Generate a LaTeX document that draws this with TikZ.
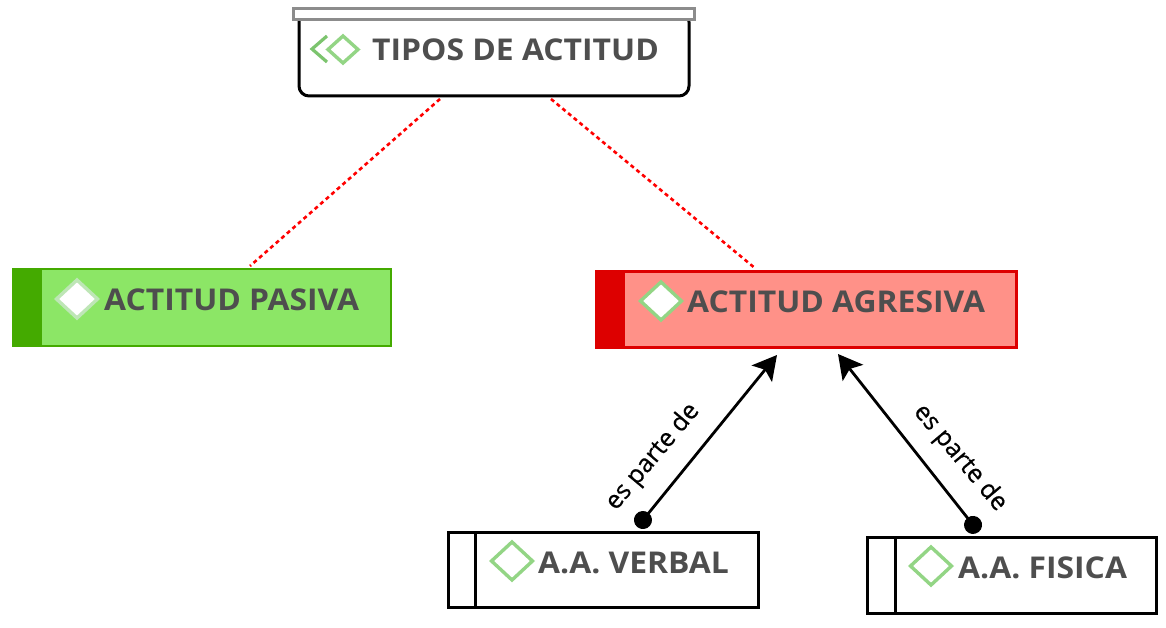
\documentclass[tikz,border=0pt]{standalone}
\usepackage{fontspec}
\setmainfont[FakeStretch=1.062]{Open Sans}
\newfontfamily\relfont[FakeBold=0.5]{Open Sans}
\usetikzlibrary{arrows.meta,calc}
\definecolor{txt}{HTML}{4E4E4E}
\definecolor{dia}{HTML}{93D585}
\definecolor{dia2}{HTML}{7CC46E}
\definecolor{gcap}{HTML}{8C8C8C}
\definecolor{gband}{HTML}{44AA00}
\definecolor{gfill}{HTML}{8CE666}
\definecolor{rband}{HTML}{DD0000}
\definecolor{rfill}{HTML}{FF9188}
\tikzset{
  x=1pt,y=-1pt,
  box/.style={draw,rectangle,inner sep=0pt,outer sep=0pt,anchor=north west},
  lab/.style={anchor=west,inner sep=0pt,text=txt,font=\fontsize{30}{32}\selectfont\bfseries},
  dmd/.style={draw=dia,line width=3.4pt,line join=miter,fill=#1},
  dmd/.default=none,
  reddot/.style={draw=red,line width=2.6pt,dash pattern=on 4pt off 3.4pt},
  rel/.style={draw=black,line width=2.8pt,{Circle[length=18pt,width=18pt]}-{Stealth[length=24pt,width=26pt,inset=5pt]}},
  rellab/.style={inner sep=0pt,font=\relfont\fontsize{25}{27}\selectfont,text=black},
}
\newcommand{\diam}[3][none]{\draw[dmd=#1] (#2-20.5,#3) -- (#2,#3-19) -- (#2+20.5,#3) -- (#2,#3+19) -- cycle;}
\begin{document}
\begin{tikzpicture}
\useasboundingbox (0,0) rectangle (1166,628);
% top
\node[box,line width=3pt,minimum width=390pt,minimum height=84pt,rounded corners=10pt] (top) at (299,12) {};
\node[box,draw=gcap,fill=white,line width=3pt,minimum width=401pt,minimum height=11pt] (cap) at (293,9) {};
\draw[draw=dia2,line width=3.2pt] (327,36) -- (312,49) -- (327,62);
\draw[dmd] (328,49.5) -- (343,36) -- (358,49.5) -- (343,63) -- cycle;
\node[lab] (ttop) at (372,50) {TIPOS DE ACTITUD};
% pasiva
\node[box,draw=gband,fill=gfill,line width=2.8pt,minimum width=378pt,minimum height=77pt] (pas) at (13,269) {};
\fill[gband] (13,269) rectangle (42,346);
\tikzset{dmd/.append style={draw=dia!60!white}}
\diam[white]{77}{299}
\tikzset{dmd/.append style={draw=dia}}
\node[lab] (tpas) at (104,300) {ACTITUD PASIVA};
% agresiva
\node[box,draw=rband,fill=rfill,line width=3pt,minimum width=420pt,minimum height=76pt] (agr) at (596.5,271.5) {};
\fill[rband] (596,271) rectangle (625,348);
\diam[white]{661}{301}
\node[lab] (tagr) at (687,302) {ACTITUD AGRESIVA};
% verbal
\node[box,line width=3pt,minimum width=310pt,minimum height=75pt] (ver) at (448,532) {};
\draw[line width=3pt] (475,532) -- (475,607);
\diam{512}{561}
\node[lab] (tver) at (538,563) {A.A. VERBAL};
% fisica
\node[box,line width=3pt,minimum width=289pt,minimum height=76pt] (fis) at (867,537) {};
\draw[line width=3pt] (895,537) -- (895,613);
\diam{931}{566}
\node[lab] (tfis) at (958,568) {A.A. FISICA};
% connectors
\coordinate (t1) at (440,99);
\coordinate (p1) at (250,266);
\coordinate (t2) at (551,99);
\coordinate (a1) at (756,269);
\draw[reddot] (t1) -- (p1);
\draw[reddot] (t2) -- (a1);
\coordinate (v1) at (637.3,527);
\coordinate (a2) at (777,355);
\coordinate (f1) at (978.6,532);
\coordinate (a3) at (838,354);
\draw[rel] (v1) -- (a2);
\draw[rel] (f1) -- (a3);
\node[rellab,rotate=50] (l1) at (653,457) {es parte de};
\node[rellab,rotate=-50] (l2) at (960,458) {es parte de};
\end{tikzpicture}
\end{document}
